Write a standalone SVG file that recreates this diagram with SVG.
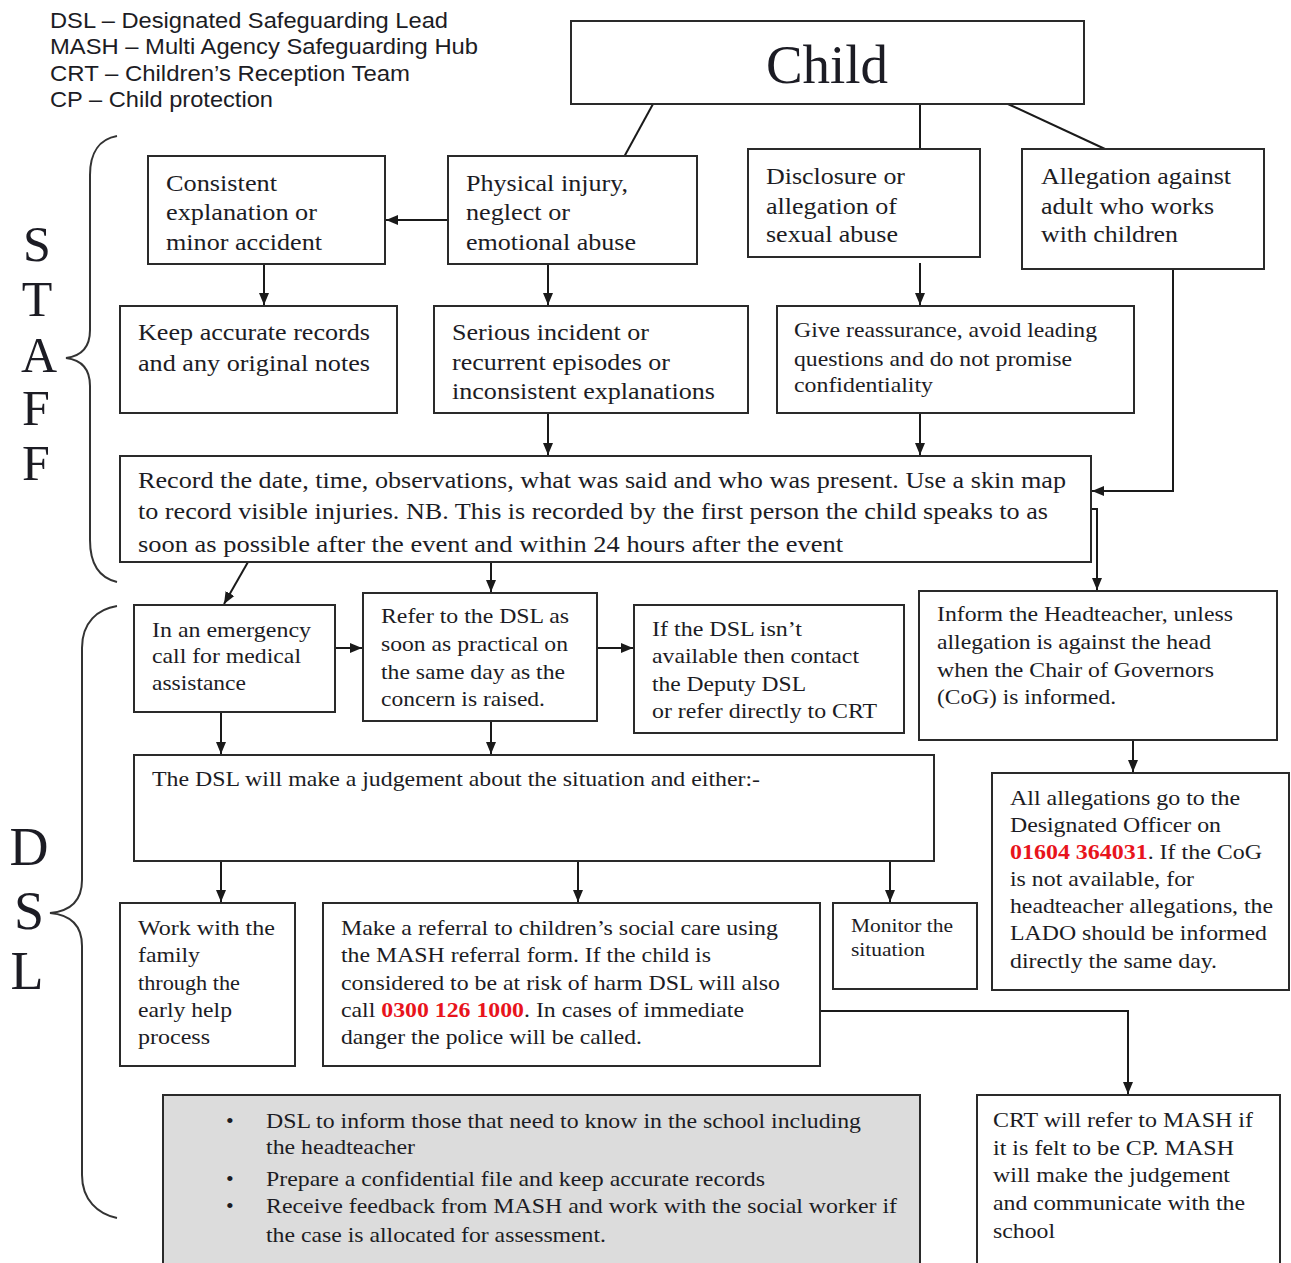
<svg xmlns="http://www.w3.org/2000/svg" width="1291" height="1263" viewBox="0 0 1291 1263">
<defs>
<marker id="ah" viewBox="0 0 12 12" refX="12" refY="6" markerWidth="12" markerHeight="12" markerUnits="userSpaceOnUse" orient="auto">
<path d="M0,1 L12,6 L0,11 Z" fill="#1a1a1a"/>
</marker>
<style>
.box{fill:#fff;stroke:#2a2a2a;stroke-width:2}
.grey{fill:#dcdcdc;stroke:#2a2a2a;stroke-width:2}
.t{font-family:"Liberation Serif","Times New Roman",serif;fill:#1c1c24}
.s{font-family:"Liberation Sans",Arial,sans-serif;fill:#1c1c24;font-size:22px}
.red{fill:#e8141c;font-weight:bold}
.c{fill:none;stroke:#1a1a1a;stroke-width:2}
.ca{fill:none;stroke:#1a1a1a;stroke-width:2;marker-end:url(#ah)}
.br{fill:none;stroke:#333;stroke-width:2}
</style>
</defs>
<rect width="1291" height="1263" fill="#fff"/>

<g id="legend">
<text class="s" x="50" y="28" textLength="398" lengthAdjust="spacingAndGlyphs">DSL – Designated Safeguarding Lead</text>
<text class="s" x="50" y="54" textLength="428" lengthAdjust="spacingAndGlyphs">MASH – Multi Agency Safeguarding Hub</text>
<text class="s" x="50" y="81" textLength="360" lengthAdjust="spacingAndGlyphs">CRT – Children’s Reception Team</text>
<text class="s" x="50" y="107" textLength="223" lengthAdjust="spacingAndGlyphs">CP – Child protection</text>
</g>

<g id="staff-label">
<path class="br" d="M117,136 C100,139 90,152 90,175 L90,330 C90,346 82,356 66,358 C82,360 90,370 90,386 L90,540 C90,565 100,578 117,582"/>
<text class="t" font-size="50" text-anchor="middle" x="37" y="261">S</text>
<text class="t" font-size="50" text-anchor="middle" x="37" y="316">T</text>
<text class="t" font-size="50" text-anchor="middle" x="39" y="372">A</text>
<text class="t" font-size="50" text-anchor="middle" x="36" y="425">F</text>
<text class="t" font-size="50" text-anchor="middle" x="36" y="480">F</text>
</g>

<g id="dsl-label">
<path class="br" d="M117,606 C98,609 82,622 82,648 L82,880 C82,900 72,911 50,913 C72,915 82,926 82,946 L82,1175 C82,1200 98,1214 117,1218"/>
<text class="t" font-size="54" text-anchor="middle" x="29" y="865">D</text>
<text class="t" font-size="54" text-anchor="middle" x="29" y="929">S</text>
<text class="t" font-size="54" text-anchor="middle" x="27" y="989">L</text>
</g>

<g id="connectors">
<path class="c" d="M653,104 L624,157"/>
<path class="c" d="M920,104 L920,149"/>
<path class="c" d="M1008,104 L1105,149"/>
<path class="ca" d="M448,220 L386,220"/>
<path class="ca" d="M264,264 L264,305"/>
<path class="ca" d="M548,264 L548,305"/>
<path class="ca" d="M920,263 L920,305"/>
<path class="ca" d="M548,413 L548,455"/>
<path class="ca" d="M920,413 L920,455"/>
<path class="ca" d="M1173,269 L1173,491 L1092,491"/>
<path class="ca" d="M1091,509 L1097,509 L1097,590"/>
<path class="ca" d="M248,562 L224,604"/>
<path class="ca" d="M491,562 L491,592"/>
<path class="ca" d="M335,648 L362,648"/>
<path class="ca" d="M597,648 L633,648"/>
<path class="ca" d="M221,712 L221,754"/>
<path class="ca" d="M491,721 L491,754"/>
<path class="ca" d="M1133,740 L1133,772"/>
<path class="ca" d="M221,861 L221,902"/>
<path class="ca" d="M578,861 L578,902"/>
<path class="ca" d="M890,861 L890,902"/>
<path class="ca" d="M820,1011 L1128,1011 L1128,1094"/>
</g>

<g id="child">
<rect class="box" x="571" y="21" width="513" height="83"/>
<text class="t" font-size="55" text-anchor="middle" x="827" y="83">Child</text>
</g>

<g id="consistent">
<rect class="box" x="148" y="156" width="237" height="108"/>
<text class="t" font-size="23"><tspan x="166" y="191" textLength="111" lengthAdjust="spacingAndGlyphs">Consistent</tspan><tspan x="166" y="220" textLength="151" lengthAdjust="spacingAndGlyphs">explanation or</tspan><tspan x="166" y="250" textLength="156" lengthAdjust="spacingAndGlyphs">minor accident</tspan></text>
</g>

<g id="physical">
<rect class="box" x="448" y="156" width="249" height="108"/>
<text class="t" font-size="23"><tspan x="466" y="191" textLength="162" lengthAdjust="spacingAndGlyphs">Physical injury,</tspan><tspan x="466" y="220" textLength="104" lengthAdjust="spacingAndGlyphs">neglect or</tspan><tspan x="466" y="250" textLength="170" lengthAdjust="spacingAndGlyphs">emotional abuse</tspan></text>
</g>

<g id="disclosure">
<rect class="box" x="748" y="149" width="232" height="108"/>
<text class="t" font-size="23"><tspan x="766" y="184" textLength="139" lengthAdjust="spacingAndGlyphs">Disclosure or</tspan><tspan x="766" y="214" textLength="131" lengthAdjust="spacingAndGlyphs">allegation of</tspan><tspan x="766" y="242" textLength="132" lengthAdjust="spacingAndGlyphs">sexual abuse</tspan></text>
</g>

<g id="allegation">
<rect class="box" x="1022" y="149" width="242" height="120"/>
<text class="t" font-size="23"><tspan x="1041" y="184" textLength="190" lengthAdjust="spacingAndGlyphs">Allegation against</tspan><tspan x="1041" y="214" textLength="173" lengthAdjust="spacingAndGlyphs">adult who works</tspan><tspan x="1041" y="242" textLength="137" lengthAdjust="spacingAndGlyphs">with children</tspan></text>
</g>

<g id="keep">
<rect class="box" x="120" y="306" width="277" height="107"/>
<text class="t" font-size="23"><tspan x="138" y="340" textLength="232" lengthAdjust="spacingAndGlyphs">Keep accurate records</tspan><tspan x="138" y="371" textLength="232" lengthAdjust="spacingAndGlyphs">and any original notes</tspan></text>
</g>

<g id="serious">
<rect class="box" x="434" y="306" width="314" height="107"/>
<text class="t" font-size="23"><tspan x="452" y="340" textLength="197" lengthAdjust="spacingAndGlyphs">Serious incident or</tspan><tspan x="452" y="370" textLength="218" lengthAdjust="spacingAndGlyphs">recurrent episodes or</tspan><tspan x="452" y="399" textLength="263" lengthAdjust="spacingAndGlyphs">inconsistent explanations</tspan></text>
</g>

<g id="reassurance">
<rect class="box" x="777" y="306" width="357" height="107"/>
<text class="t" font-size="22"><tspan x="794" y="337" textLength="303" lengthAdjust="spacingAndGlyphs">Give reassurance, avoid leading</tspan><tspan x="794" y="366" textLength="278" lengthAdjust="spacingAndGlyphs">questions and do not promise</tspan><tspan x="794" y="392" textLength="139" lengthAdjust="spacingAndGlyphs">confidentiality</tspan></text>
</g>

<g id="record">
<rect class="box" x="120" y="456" width="971" height="106"/>
<text class="t" font-size="24"><tspan x="138" y="488" textLength="928" lengthAdjust="spacingAndGlyphs">Record the date, time, observations, what was said and who was present. Use a skin map</tspan><tspan x="138" y="519" textLength="910" lengthAdjust="spacingAndGlyphs">to record visible injuries. NB. This is recorded by the first person the child speaks to as</tspan><tspan x="138" y="552" textLength="705" lengthAdjust="spacingAndGlyphs">soon as possible after the event and within 24 hours after the event</tspan></text>
</g>

<g id="emergency">
<rect class="box" x="134" y="605" width="201" height="107"/>
<text class="t" font-size="21"><tspan x="152" y="637" textLength="159" lengthAdjust="spacingAndGlyphs">In an emergency</tspan><tspan x="152" y="663" textLength="149" lengthAdjust="spacingAndGlyphs">call for medical</tspan><tspan x="152" y="690" textLength="94" lengthAdjust="spacingAndGlyphs">assistance</tspan></text>
</g>

<g id="refer">
<rect class="box" x="363" y="593" width="234" height="128"/>
<text class="t" font-size="22"><tspan x="381" y="623" textLength="188" lengthAdjust="spacingAndGlyphs">Refer to the DSL as</tspan><tspan x="381" y="651" textLength="187" lengthAdjust="spacingAndGlyphs">soon as practical on</tspan><tspan x="381" y="679" textLength="184" lengthAdjust="spacingAndGlyphs">the same day as the</tspan><tspan x="381" y="706" textLength="164" lengthAdjust="spacingAndGlyphs">concern is raised.</tspan></text>
</g>

<g id="deputy">
<rect class="box" x="634" y="605" width="270" height="128"/>
<text class="t" font-size="22"><tspan x="652" y="636" textLength="150" lengthAdjust="spacingAndGlyphs">If the DSL isn’t</tspan><tspan x="652" y="663" textLength="207" lengthAdjust="spacingAndGlyphs">available then contact</tspan><tspan x="652" y="691" textLength="154" lengthAdjust="spacingAndGlyphs">the Deputy DSL</tspan><tspan x="652" y="718" textLength="225" lengthAdjust="spacingAndGlyphs">or refer directly to CRT</tspan></text>
</g>

<g id="headteacher">
<rect class="box" x="919" y="591" width="358" height="149"/>
<text class="t" font-size="22"><tspan x="937" y="621" textLength="296" lengthAdjust="spacingAndGlyphs">Inform the Headteacher, unless</tspan><tspan x="937" y="649" textLength="274" lengthAdjust="spacingAndGlyphs">allegation is against the head</tspan><tspan x="937" y="677" textLength="277" lengthAdjust="spacingAndGlyphs">when the Chair of Governors</tspan><tspan x="937" y="704" textLength="179" lengthAdjust="spacingAndGlyphs">(CoG) is informed.</tspan></text>
</g>

<g id="judgement">
<rect class="box" x="134" y="755" width="800" height="106"/>
<text class="t" font-size="22" x="152" y="786" textLength="608" lengthAdjust="spacingAndGlyphs">The DSL will make a judgement about the situation and either:-</text>
</g>

<g id="designated-officer">
<rect class="box" x="992" y="773" width="297" height="217"/>
<text class="t" font-size="22"><tspan x="1010" y="805" textLength="230" lengthAdjust="spacingAndGlyphs">All allegations go to the</tspan><tspan x="1010" y="832" textLength="211" lengthAdjust="spacingAndGlyphs">Designated Officer on</tspan><tspan x="1010" y="859" textLength="252" lengthAdjust="spacingAndGlyphs"><tspan class="red">01604 364031</tspan>. If the CoG</tspan><tspan x="1010" y="886" textLength="184" lengthAdjust="spacingAndGlyphs">is not available, for</tspan><tspan x="1010" y="913" textLength="263" lengthAdjust="spacingAndGlyphs">headteacher allegations, the</tspan><tspan x="1010" y="940" textLength="257" lengthAdjust="spacingAndGlyphs">LADO should be informed</tspan><tspan x="1010" y="968" textLength="207" lengthAdjust="spacingAndGlyphs">directly the same day.</tspan></text>
</g>

<g id="early-help">
<rect class="box" x="120" y="903" width="175" height="163"/>
<text class="t" font-size="22"><tspan x="138" y="935" textLength="137" lengthAdjust="spacingAndGlyphs">Work with the</tspan><tspan x="138" y="962" textLength="62" lengthAdjust="spacingAndGlyphs">family</tspan><tspan x="138" y="990" textLength="102" lengthAdjust="spacingAndGlyphs">through the</tspan><tspan x="138" y="1017" textLength="94" lengthAdjust="spacingAndGlyphs">early help</tspan><tspan x="138" y="1044" textLength="72" lengthAdjust="spacingAndGlyphs">process</tspan></text>
</g>

<g id="referral">
<rect class="box" x="323" y="903" width="497" height="163"/>
<text class="t" font-size="22"><tspan x="341" y="935" textLength="437" lengthAdjust="spacingAndGlyphs">Make a referral to children’s social care using</tspan><tspan x="341" y="962" textLength="370" lengthAdjust="spacingAndGlyphs">the MASH referral form. If the child is</tspan><tspan x="341" y="990" textLength="439" lengthAdjust="spacingAndGlyphs">considered to be at risk of harm DSL will also</tspan><tspan x="341" y="1017" textLength="403" lengthAdjust="spacingAndGlyphs">call <tspan class="red">0300 126 1000</tspan>. In cases of immediate</tspan><tspan x="341" y="1044" textLength="301" lengthAdjust="spacingAndGlyphs">danger the police will be called.</tspan></text>
</g>

<g id="monitor">
<rect class="box" x="833" y="903" width="144" height="86"/>
<text class="t" font-size="19"><tspan x="851" y="932" textLength="102" lengthAdjust="spacingAndGlyphs">Monitor the</tspan><tspan x="851" y="956" textLength="74" lengthAdjust="spacingAndGlyphs">situation</tspan></text>
</g>

<g id="actions">
<rect class="grey" x="163" y="1095" width="757" height="180"/>
<g class="t" font-size="22">
<text x="226" y="1128">•</text>
<text x="226" y="1186">•</text>
<text x="226" y="1213">•</text>
<text x="266" y="1128" textLength="595" lengthAdjust="spacingAndGlyphs">DSL to inform those that need to know in the school including</text>
<text x="266" y="1154" textLength="149" lengthAdjust="spacingAndGlyphs">the headteacher</text>
<text x="266" y="1186" textLength="499" lengthAdjust="spacingAndGlyphs">Prepare a confidential file and keep accurate records</text>
<text x="266" y="1213" textLength="631" lengthAdjust="spacingAndGlyphs">Receive feedback from MASH and work with the social worker if</text>
<text x="266" y="1242" textLength="340" lengthAdjust="spacingAndGlyphs">the case is allocated for assessment.</text>
</g>
</g>

<g id="crt">
<rect class="box" x="977" y="1095" width="303" height="180"/>
<text class="t" font-size="22"><tspan x="993" y="1127" textLength="260" lengthAdjust="spacingAndGlyphs">CRT will refer to MASH if</tspan><tspan x="993" y="1155" textLength="241" lengthAdjust="spacingAndGlyphs">it is felt to be CP. MASH</tspan><tspan x="993" y="1182" textLength="237" lengthAdjust="spacingAndGlyphs">will make the judgement</tspan><tspan x="993" y="1210" textLength="252" lengthAdjust="spacingAndGlyphs">and communicate with the</tspan><tspan x="993" y="1238" textLength="62" lengthAdjust="spacingAndGlyphs">school</tspan></text>
</g>
</svg>
